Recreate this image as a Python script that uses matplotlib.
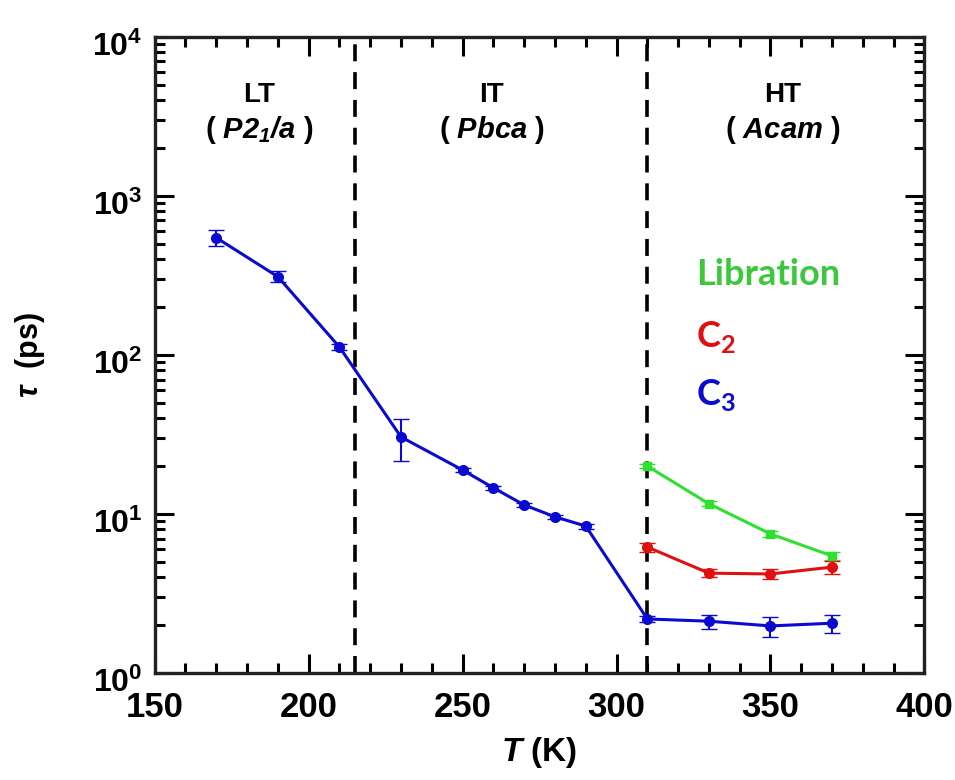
import matplotlib
matplotlib.use("Agg")
import matplotlib.pyplot as plt
import matplotlib.transforms as mtransforms
import numpy as np
from matplotlib.ticker import FixedLocator, FixedFormatter, LogLocator, MultipleLocator, NullFormatter

plt.rcParams['font.family'] = 'Liberation Sans'
plt.rcParams['font.weight'] = 'bold'
plt.rcParams['mathtext.fontset'] = 'custom'
# math text is used for italic pieces (T, tau, space groups)
plt.rcParams['mathtext.rm'] = 'Liberation Sans:bold:italic'
plt.rcParams['mathtext.it'] = 'Liberation Sans:bold:italic'
plt.rcParams['mathtext.bf'] = 'Liberation Sans:bold'
plt.rcParams['mathtext.sf'] = 'Lato:bold'

# C3 relaxation times over the whole range
T_c3 = [170, 190, 210, 230, 250, 260, 270, 280, 290, 310, 330, 350, 370]
tau_c3 = [545, 310, 112, 30.5, 18.9, 14.6, 11.4, 9.6, 8.4, 2.19, 2.12, 1.98, 2.06]
err_lo_c3 = [60, 22, 5, 9, 0.6, 0.5, 0.4, 0.3, 0.3, 0.1, 0.23, 0.30, 0.27]
err_hi_c3 = [66, 27, 5, 9, 0.6, 0.5, 0.4, 0.3, 0.3, 0.1, 0.20, 0.27, 0.26]

# HT phase only
T_ht = [310, 330, 350, 370]
tau_c2 = [6.2, 4.25, 4.2, 4.64]
err_c2 = [0.4, 0.25, 0.3, 0.45]
tau_lib = [20.0, 11.6, 7.5, 5.45]
err_lib = [0.5, 0.4, 0.3, 0.3]

# phase boundaries
T_trans = [215, 310]

blue = '#0a0ad0'
red = '#e01010'
green = '#30e030'

fig = plt.figure(figsize=(9.55, 7.8), dpi=100)
ax = fig.add_axes([0.162, 0.137, 0.806, 0.816])

for t in T_trans:
    ax.axvline(t, color='black', linestyle=(0, (4.7, 3)), linewidth=2.6, zorder=1)

ax.errorbar(T_ht, tau_lib, yerr=err_lib, color=green, marker='s', markersize=6,
            linewidth=2.2, capsize=6, elinewidth=1.5, zorder=3)
ax.errorbar(T_ht, tau_c2, yerr=err_c2, color=red, marker='o', markersize=7,
            linewidth=2.2, capsize=6, elinewidth=1.5, zorder=3)
ax.errorbar(T_c3, tau_c3, yerr=[err_lo_c3, err_hi_c3], color=blue, marker='o', markersize=7,
            linewidth=2.2, capsize=6, elinewidth=1.5, zorder=4)

ax.set_yscale('log')
ax.set_xlim(150, 400)
ax.set_ylim(1, 1e4)

ax.xaxis.set_major_locator(MultipleLocator(50))
ax.xaxis.set_minor_locator(MultipleLocator(10))
ax.yaxis.set_major_locator(FixedLocator([1, 10, 100, 1000, 10000]))
ax.yaxis.set_major_formatter(FixedFormatter([r'$\mathbf{10^{%d}}$' % i for i in range(5)]))
ax.yaxis.set_minor_locator(LogLocator(base=10, subs=np.arange(2, 10)))
ax.yaxis.set_minor_formatter(NullFormatter())

ax.tick_params(which='both', direction='in', top=True, right=True, width=2.2)
ax.tick_params(which='major', length=14)
ax.tick_params(which='minor', length=7)
ax.tick_params(axis='x', which='major', labelsize=25, pad=13)
ax.tick_params(axis='y', which='major', labelsize=23, pad=9)
for lab in ax.get_xticklabels():
    lab.set_fontweight('bold')
# MATLAB-style: the base sits a little below the tick, exponent at tick level
shift = mtransforms.ScaledTranslation(0, -5 / 72, fig.dpi_scale_trans)
for lab in ax.get_yticklabels():
    lab.set_transform(lab.get_transform() + shift)
for s in ax.spines.values():
    s.set_linewidth(2.4)
    s.set_color('#222222')

ax.set_xlabel(r'$\mathit{T}$ (K)', fontsize=24, fontweight='bold', labelpad=8)
ax.set_ylabel(r'$\tau$  (ps)', fontsize=22, fontweight='bold', labelpad=32)

# phase labels
phases = [(184, 'LT', r'( $\mathrm{P2_1/a}$ )'),
          (259.5, 'IT', r'( $\mathrm{Pbca}$ )'),
          (354, 'HT', r'( $\mathrm{Acam}$ )')]
for x, name, grp in phases:
    ax.text(x, 0.909, name, transform=ax.get_xaxis_transform(), ha='center', va='center',
            fontsize=20, fontweight='bold')
    ax.text(x, 0.853, grp, transform=ax.get_xaxis_transform(), ha='center', va='center',
            fontsize=21, fontweight='bold')

# series legend as coloured text
ax.text(0.703, 0.610, 'Libration', transform=ax.transAxes, color='#3cc83c',
        fontsize=26, fontweight='bold', family='Lato', va='baseline')
ax.text(0.703, 0.5126, r'C$_\mathsf{2}$', transform=ax.transAxes, color=red,
        fontsize=26, fontweight='bold', family='Lato', va='baseline')
ax.text(0.703, 0.4214, r'C$_\mathsf{3}$', transform=ax.transAxes, color=blue,
        fontsize=26, fontweight='bold', family='Lato', va='baseline')

fig.savefig('out.png', dpi=100)
